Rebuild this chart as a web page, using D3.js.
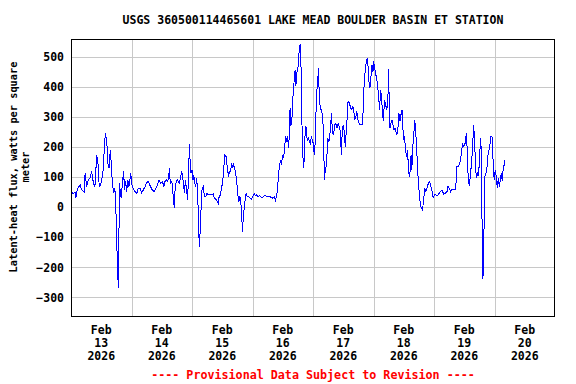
<!DOCTYPE html>
<html>
<head>
<meta charset="utf-8">
<script src="https://cdn.jsdelivr.net/npm/d3@7"></script>
<style>
  html, body { margin: 0; padding: 0; background: #fff; }
  svg { display: block; }
  text { font-family: "DejaVu Sans Mono", "Liberation Mono", monospace; font-weight: bold; fill: #000; }
</style>
</head>
<body>
<svg id="chart" width="576" height="384"></svg>
<script>
// ---------------- DATA ----------------
const chartTitle = "USGS 360500114465601 LAKE MEAD BOULDER BASIN ET STATION";
const yTitleLines = ["Latent-heat flux, watts per square", "meter"];
const footerText = "---- Provisional Data Subject to Revision ----";

const startDate = Date.UTC(2026, 1, 13); // Feb 13 2026 00:00
const endDate = Date.UTC(2026, 1, 21);   // Feb 21 2026 00:00

// hours since Feb 13 00:00
const hours = [
  0.0,0.8,1.6,1.9,2.5,3.6,4.2,5.2,5.6,6.2,6.9,7.5,8.2,8.9,9.5,10.2,10.7,11.2,11.8,12.6,
  13.2,13.6,14.2,14.6,15.1,15.6,16.0,16.4,17.0,17.4,17.7,18.0,18.4,18.8,19.0,19.3,19.6,20.0,20.4,20.9,
  21.2,21.7,22.1,22.5,23.0,23.7,24.1,24.7,25.4,26.1,26.7,27.4,28.0,28.7,29.4,
  29.9,30.6,31.2,32.2,33.0,33.6,34.3,34.9,35.6,36.3,36.8,37.3,37.9,38.4,38.8,39.0,39.4,40.0,40.5,41.0,
  41.3,41.8,42.3,42.9,43.4,43.9,44.3,44.6,45.0,45.4,45.8,46.3,46.6,47.0,47.2,47.6,48.0,48.4,48.7,49.1,
  49.5,49.8,50.2,50.6,50.9,51.2,51.6,51.9,52.1,52.5,52.9,53.5,54.0,54.5,55.0,55.7,56.4,56.9,57.4,58.0,58.4,
  58.6,59.2,59.7,60.2,60.6,61.0,61.5,61.9,62.5,62.9,63.3,63.7,64.1,64.5,64.9,65.4,65.8,66.2,66.6,67.0,
  67.4,67.8,68.0,68.3,68.7,69.1,69.5,69.9,70.4,71.0,71.5,72.1,72.7,73.2,73.7,74.2,74.8,75.3,75.8,76.4,
  76.9,77.4,78.1,78.7,79.4,80.1,80.6,81.1,81.5,81.9,82.3,82.7,83.1,83.5,83.9,84.3,84.7,85.1,85.5,85.9,
  86.3,86.7,86.9,87.2,
  87.7,88.1,88.5,88.9,89.2,89.6,90.1,90.5,90.9,91.2,91.5,91.7,92.0,92.2,92.5,92.8,93.2,93.6,93.8,94.2,
  94.6,95.0,95.3,95.7,96.1,96.5,96.9,97.1,97.5,97.9,98.2,98.5,98.9,99.3,99.7,100.0,100.3,100.6,100.8,101.2,
  101.5,101.9,102.3,102.7,103.1,103.4,103.6,104.0,104.4,104.8,105.2,105.6,106.0,106.4,106.8,107.1,107.3,107.6,108.0,108.4,
  108.8,109.0,109.4,109.8,110.2,110.6,111.0,111.4,111.8,112.2,112.6,113.0,113.4,113.8,114.2,114.6,115.1,115.7,115.9,
  116.3,116.7,117.1,117.5,117.8,118.2,118.6,119.0,119.4,119.8,120.0,120.4,120.8,121.2,121.5,121.7,122.1,122.4,122.8,123.2,
  123.6,124.0,124.3,124.8,125.3,125.7,126.0,126.2,126.5,126.9,127.3,127.7,128.1,128.5,128.9,129.3,129.7,130.1,130.5,130.9,
  131.3,131.5,131.9,132.3,132.7,133.1,133.5,133.9,134.2,134.5,134.9,135.2,135.6,136.0,136.3,136.6,136.8,137.1,137.5,137.9,
  138.3,138.7,139.1,139.5,139.7,140.1,140.4,140.8,141.2,141.6,142.1,142.5,142.9,143.3,143.7,144.1,144.6,145.3,
  145.8,146.5,147.2,147.8,148.5,149.2,149.5,150.1,150.6,151.1,151.8,152.5,152.9,153.1,153.8,154.2,154.6,155.0,155.4,155.8,
  156.2,156.6,156.8,157.1,157.4,157.8,158.1,158.5,158.9,159.3,159.7,160.0,160.3,160.5,160.9,161.3,161.7,162.1,162.5,162.8,
  163.0,163.3,163.4,163.7,164.0,164.2,164.6,165.0,165.4,165.8,166.2,166.6,167.0,167.3,167.7,167.9,168.3,168.7,169.1,169.5,
  169.9,170.3,170.7,171.1,171.5,171.9,172.2
];

// latent-heat flux, W/m^2
const flux = [
  55,45,50,30,60,75,58,52,113,69,91,97,119,80,69,174,147,69,75,108,
  191,247,219,147,130,191,141,80,47,63,13,-53,-198,-270,-98,80,41,30,86,119,
  58,86,52,91,69,113,75,63,52,47,63,63,47,58,69,
  80,86,75,58,52,63,75,91,80,86,69,86,91,86,102,130,80,86,41,-3,
  63,86,91,80,97,119,102,80,47,91,58,24,113,210,163,113,124,91,108,80,
  69,97,63,-53,-131,-87,-3,52,63,69,36,36,47,41,41,41,44,30,27,19,13,
  30,41,63,86,130,174,169,141,102,119,119,147,130,141,130,108,80,41,19,36,
  13,-42,-81,-42,-3,24,47,36,36,30,27,36,44,38,41,36,38,36,30,36,
  41,36,36,36,33,30,36,24,36,58,102,141,152,141,174,163,191,236,224,236,
  197,258,330,269,
  302,374,419,458,402,447,469,519,544,480,397,219,174,130,158,236,269,230,224,230,
  219,208,236,224,213,174,219,297,386,424,463,363,330,324,308,274,174,91,119,136,
  169,230,219,241,286,313,263,241,258,280,274,263,280,269,252,202,174,258,274,252,
  202,230,274,347,352,341,330,324,336,319,291,302,319,291,280,274,274,274,330,
  413,452,480,497,474,419,397,436,474,452,486,469,447,430,413,397,363,324,391,363,
  308,286,358,341,324,358,460,363,263,280,291,274,258,263,252,241,263,313,286,308,
  324,291,224,236,191,169,191,124,102,119,174,124,202,241,291,274,241,202,124,74,
  30,3,-3,-11,13,41,63,52,63,75,86,80,63,52,30,41,41,38,
  44,52,58,44,47,52,69,63,52,58,58,58,97,136,136,147,163,191,208,202,
  208,224,247,202,124,80,75,113,147,197,274,241,180,124,97,113,108,169,230,180,
  -20,-153,-240,-153,13,102,113,130,174,191,208,236,236,180,113,91,124,102,63,97,
  69,91,113,86,136,141,158
];

const yTicks = [-300, -200, -100, 0, 100, 200, 300, 400, 500];
const yDomain = [-362, 560];
const xTickMonths = ["Feb", "Feb", "Feb", "Feb", "Feb", "Feb", "Feb", "Feb"];
const xTickDays = ["13", "14", "15", "16", "17", "18", "19", "20"];
const xTickYears = ["2026", "2026", "2026", "2026", "2026", "2026", "2026", "2026"];

// ---------------- CHART ----------------
const W = 576, H = 384;
const margin = { left: 71, right: 21, top: 39, bottom: 68 };
const x0 = margin.left, x1 = W - margin.right, y0 = margin.top, y1 = H - margin.bottom;

const svg = d3.select("#chart");

const x = d3.scaleUtc().domain([new Date(startDate), new Date(endDate)]).range([x0, x1]);
const y = d3.scaleLinear().domain(yDomain).range([y1, y0]);

const data = hours.map((h, i) => ({ t: new Date(startDate + h * 3600e3), v: flux[i] }));

// gridlines
const grid = svg.append("g").attr("shape-rendering", "crispEdges");
grid.selectAll("line.h").data(yTicks).join("line")
  .attr("class", "h")
  .attr("x1", x0).attr("x2", x1)
  .attr("y1", d => Math.round(y(d)) + 0.5).attr("y2", d => Math.round(y(d)) + 0.5)
  .attr("stroke", "#c8c8c8").attr("stroke-width", 1);

const dayTicks = d3.utcDay.range(new Date(startDate + 86400e3), new Date(endDate));
grid.selectAll("line.v").data(dayTicks).join("line")
  .attr("class", "v")
  .attr("y1", y0).attr("y2", y1)
  .attr("x1", d => Math.round(x(d)) + 0.5).attr("x2", d => Math.round(x(d)) + 0.5)
  .attr("stroke", "#c8c8c8").attr("stroke-width", 1);

// data line
const line = d3.line().x(d => x(d.t)).y(d => y(d.v)).curve(d3.curveLinear);
svg.append("path")
  .datum(data)
  .attr("d", line)
  .attr("fill", "none")
  .attr("stroke", "#0000ff")
  .attr("stroke-width", 1)
  .attr("shape-rendering", "crispEdges");

// frame
svg.append("rect")
  .attr("x", x0 + 0.5).attr("y", y0 + 0.5)
  .attr("width", x1 - x0 - 1).attr("height", y1 - y0)
  .attr("fill", "none").attr("stroke", "#000").attr("stroke-width", 1.3)
  .attr("shape-rendering", "crispEdges");

// y axis labels
const yAxis = d3.axisLeft(y).tickValues(yTicks).tickSize(0).tickPadding(7);
const gy = svg.append("g").attr("transform", `translate(${x0},0)`).call(yAxis);
gy.select(".domain").remove();
gy.selectAll("text")
  .style("font-family", '"DejaVu Sans Mono", monospace')
  .style("font-weight", "bold")
  .style("font-size", "11.5px")
  .attr("fill", "#000");

// x axis labels (at noon of each day)
const noonTicks = d3.utcDay.range(new Date(startDate), new Date(endDate)).map(d => new Date(+d + 12 * 3600e3));
const xLab = svg.append("g").attr("font-size", "11.5px").attr("text-anchor", "middle");
noonTicks.forEach((d, i) => {
  const cx = x(d);
  const t = xLab.append("text").attr("x", cx).attr("y", 334);
  t.append("tspan").attr("x", cx).attr("dy", 0).text(xTickMonths[i]);
  t.append("tspan").attr("x", cx).attr("dy", 13).text(xTickDays[i]);
  t.append("tspan").attr("x", cx).attr("dy", 13).text(xTickYears[i]);
});

// title
svg.append("text")
  .attr("x", (x0 + x1) / 2).attr("y", 24)
  .attr("text-anchor", "middle").attr("font-size", "11.5px")
  .text(chartTitle);

// y title
const yt = svg.append("text")
  .attr("transform", "translate(17,167) rotate(-90)")
  .attr("text-anchor", "middle").attr("font-size", "10.3px");
yt.append("tspan").attr("x", 0).attr("dy", 0).text(yTitleLines[0]);
yt.append("tspan").attr("x", 0).attr("dy", 11.5).text(yTitleLines[1]);

// footer
svg.append("text")
  .attr("x", (x0 + x1) / 2).attr("y", 379)
  .attr("text-anchor", "middle").attr("font-size", "11.7px")
  .style("fill", "#ff0000")
  .text(footerText);
</script>
</body>
</html>
